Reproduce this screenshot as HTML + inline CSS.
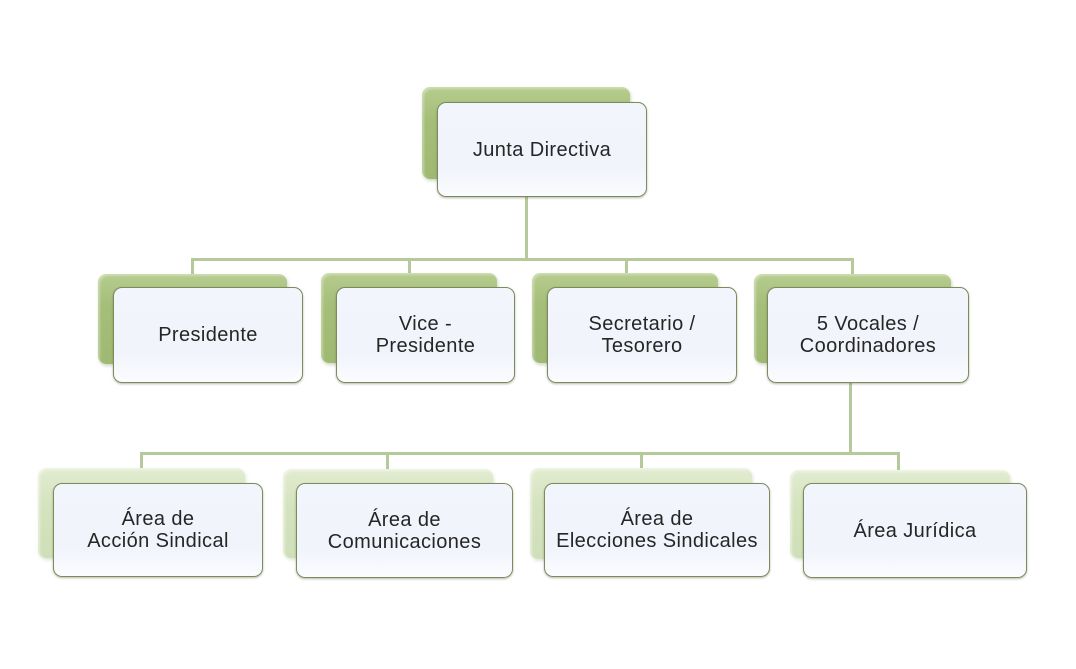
<!DOCTYPE html>
<html>
<head>
<meta charset="utf-8">
<style>
  html,body{margin:0;padding:0;background:#fff;}
  body{width:1076px;height:669px;position:relative;overflow:hidden;font-family:"Liberation Sans",sans-serif;}
  .ln{position:absolute;background:#b5c99a;}
  .sh{position:absolute;border-radius:8px;}
  .g1{background:linear-gradient(180deg,#b6cc8e 0%,#a5be79 35%,#9fb972 100%);box-shadow:inset 2px 2px 2px rgba(255,255,255,0.35),1px 2px 3px rgba(120,140,90,0.35);}
  .g2{background:linear-gradient(180deg,#e2ecd1 0%,#d5e3bf 40%,#cfdfb7 100%);box-shadow:inset 2px 2px 2px rgba(255,255,255,0.45),1px 2px 3px rgba(150,170,120,0.3);}
  .fr{position:absolute;box-sizing:border-box;border:1.5px solid #7b8b5c;border-radius:9px;
      background:linear-gradient(180deg,#f3f5fd 0%,#f2f4fc 70%,#fbfcff 100%);
      box-shadow:0 1px 2px rgba(90,100,70,0.45);
      display:flex;align-items:center;justify-content:center;text-align:center;
      font-size:20px;letter-spacing:0.4px;line-height:22px;color:#262626;}
</style>
</head>
<body>
<!-- connectors -->
<div class="ln" style="left:525px;top:180px;width:3px;height:81px;"></div>
<div class="ln" style="left:191px;top:258px;width:663px;height:3px;"></div>
<div class="ln" style="left:191px;top:258px;width:3px;height:17px;"></div>
<div class="ln" style="left:408px;top:258px;width:3px;height:17px;"></div>
<div class="ln" style="left:625px;top:258px;width:3px;height:17px;"></div>
<div class="ln" style="left:851px;top:258px;width:3px;height:17px;"></div>

<div class="ln" style="left:849px;top:380px;width:3px;height:75px;"></div>
<div class="ln" style="left:140px;top:452px;width:760px;height:3px;"></div>
<div class="ln" style="left:140px;top:452px;width:3px;height:18px;"></div>
<div class="ln" style="left:386px;top:452px;width:3px;height:18px;"></div>
<div class="ln" style="left:640px;top:452px;width:3px;height:18px;"></div>
<div class="ln" style="left:897px;top:452px;width:3px;height:18px;"></div>

<!-- top -->
<div class="sh g1" style="left:422px;top:87px;width:208px;height:92px;"></div>
<div class="fr" style="left:437px;top:102px;width:210px;height:95px;">Junta Directiva</div>

<!-- row 2 -->
<div class="sh g1" style="left:98px;top:274px;width:189px;height:90px;"></div>
<div class="fr" style="left:113px;top:287px;width:190px;height:96px;">Presidente</div>

<div class="sh g1" style="left:321px;top:273px;width:176px;height:90px;"></div>
<div class="fr" style="left:336px;top:287px;width:179px;height:96px;">Vice -<br>Presidente</div>

<div class="sh g1" style="left:532px;top:273px;width:186px;height:90px;"></div>
<div class="fr" style="left:547px;top:287px;width:190px;height:96px;">Secretario /<br>Tesorero</div>

<div class="sh g1" style="left:754px;top:274px;width:197px;height:89px;"></div>
<div class="fr" style="left:767px;top:287px;width:202px;height:96px;">5 Vocales /<br>Coordinadores</div>

<!-- row 3 -->
<div class="sh g2" style="left:38px;top:468px;width:207px;height:90px;"></div>
<div class="fr" style="left:53px;top:483px;width:210px;height:94px;">Área de<br>Acción Sindical</div>

<div class="sh g2" style="left:283px;top:469px;width:210px;height:89px;"></div>
<div class="fr" style="left:296px;top:483px;width:217px;height:95px;">Área de<br>Comunicaciones</div>

<div class="sh g2" style="left:530px;top:468px;width:222px;height:91px;"></div>
<div class="fr" style="left:544px;top:483px;width:226px;height:94px;">Área de<br>Elecciones Sindicales</div>

<div class="sh g2" style="left:790px;top:470px;width:220px;height:88px;"></div>
<div class="fr" style="left:803px;top:483px;width:224px;height:95px;">Área Jurídica</div>
</body>
</html>
